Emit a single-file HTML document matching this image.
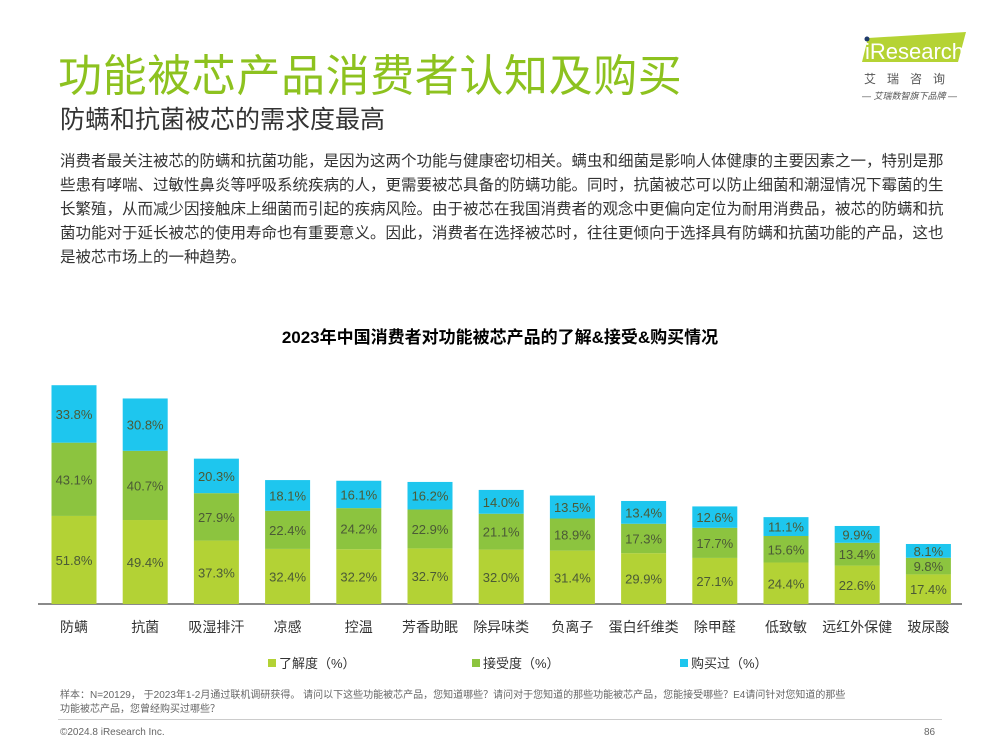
<!DOCTYPE html>
<html><head><meta charset="utf-8"><style>
body{margin:0;width:1000px;height:750px;background:#fff;font-family:"Liberation Sans","Noto Sans CJK SC",sans-serif;position:relative;overflow:hidden}
.a{position:absolute;white-space:nowrap}
</style></head><body>
<div class="a" style="left:58px;top:40px;font-size:44px;color:#8dc21f;letter-spacing:0.6px">功能被芯产品消费者认知及购买</div>
<div class="a" style="left:60px;top:100px;font-size:25px;color:#333">防螨和抗菌被芯的需求度最高</div>
<div class="a" style="left:862px;top:32px;width:100px;height:30px">
<svg width="110" height="32"><polygon points="6,6 104,0 96,30 0,30" fill="#b5d334"/><circle cx="5" cy="7" r="2.5" fill="#1f3a6b"/><text x="3" y="27" font-size="22" fill="#fff" font-family="Liberation Sans">iResearch</text></svg></div>
<div class="a" style="left:864px;top:70px;font-size:12px;color:#555;letter-spacing:11px">艾瑞咨询</div>
<div class="a" style="left:862px;top:89px;font-size:9px;color:#555;font-style:italic">— 艾瑞数智旗下品牌 —</div>
<div class="a" style="left:60px;top:150px;font-size:15.5px;line-height:24px;color:#333">消费者最关注被芯的防螨和抗菌功能，是因为这两个功能与健康密切相关。螨虫和细菌是影响人体健康的主要因素之一，特别是那<br>些患有哮喘、过敏性鼻炎等呼吸系统疾病的人，更需要被芯具备的防螨功能。同时，抗菌被芯可以防止细菌和潮湿情况下霉菌的生<br>长繁殖，从而减少因接触床上细菌而引起的疾病风险。由于被芯在我国消费者的观念中更偏向定位为耐用消费品，被芯的防螨和抗<br>菌功能对于延长被芯的使用寿命也有重要意义。因此，消费者在选择被芯时，往往更倾向于选择具有防螨和抗菌功能的产品，这也<br>是被芯市场上的一种趋势。</div>
<div class="a" style="left:0;width:1000px;text-align:center;top:323px;font-size:17px;font-weight:bold;color:#000">2023年中国消费者对功能被芯产品的了解&amp;接受&amp;购买情况</div>
<svg class="a" style="left:0;top:0" width="1000" height="750" id="chart"></svg>
<div class="a" style="left:60px;top:689px;font-size:10px;line-height:14px;color:#666">样本：N=20129， 于2023年1-2月通过联机调研获得。 请问以下这些功能被芯产品，您知道哪些？请问对于您知道的那些功能被芯产品，您能接受哪些？E4请问针对您知道的那些<br>功能被芯产品，您曾经购买过哪些？</div>
<div class="a" style="left:58px;top:719px;width:884px;height:1px;background:#ccc"></div>
<div class="a" style="left:60px;top:727px;font-size:10px;color:#666">©2024.8 iResearch Inc.</div>
<div class="a" style="left:924px;top:727px;font-size:10px;color:#666">86</div>
<script>
const categories=["防螨","抗菌","吸湿排汗","凉感","控温","芳香助眠","除异味类","负离子","蛋白纤维类","除甲醛","低致敏","远红外保健","玻尿酸"];
const aware=[51.8,49.4,37.3,32.4,32.2,32.7,32.0,31.4,29.9,27.1,24.4,22.6,17.4];
const accept=[43.1,40.7,27.9,22.4,24.2,22.9,21.1,18.9,17.3,17.7,15.6,13.4,9.8];
const bought=[33.8,30.8,20.3,18.1,16.1,16.2,14.0,13.5,13.4,12.6,11.1,9.9,8.1];
const seriesNames=["了解度（%）","接受度（%）","购买过（%）"];
const NS="http://www.w3.org/2000/svg",svg=document.getElementById("chart");
const base=604,k=1.70,x0=74,step=71.2,bw=45;
const colors=["#b3d235","#8cc43f","#1ec6ee"];
const yS=v=>v*k, xS=i=>x0+i*step;
function mk(t,a){const e=document.createElementNS(NS,t);for(const n in a)e.setAttribute(n,a[n]);svg.appendChild(e);return e;}
const ax=mk("line",{x1:38,x2:962,y1:base,y2:base,stroke:"#444","stroke-width":1.2});


const series=[aware,accept,bought];
categories.forEach((c,i)=>{
 let y=base;
 series.forEach((s,j)=>{
  const h=yS(s[i]);y-=h;
  const r=mk("rect",{x:xS(i)-bw/2,y:y,width:bw,height:h,fill:colors[j]});
  
  
  const t=mk("text",{x:xS(i),y:y+h/2+5,"text-anchor":"middle","font-size":13,fill:"#4b5a36"});
  t.textContent=s[i].toFixed(1)+"%";
  
  
 });
 const l=mk("text",{x:xS(i),y:632,"text-anchor":"middle","font-size":14,fill:"#333"});
 l.textContent=c;
 
 
});
const lx=[268,472,680];
seriesNames.forEach((n,j)=>{
 const r=mk("rect",{x:lx[j],y:659,width:8,height:8,fill:colors[j]});
 
 
 const t=mk("text",{x:lx[j]+11,y:668,"font-size":13,fill:"#333"});
 t.textContent=n;
 
 
});
</script>
</body></html>
